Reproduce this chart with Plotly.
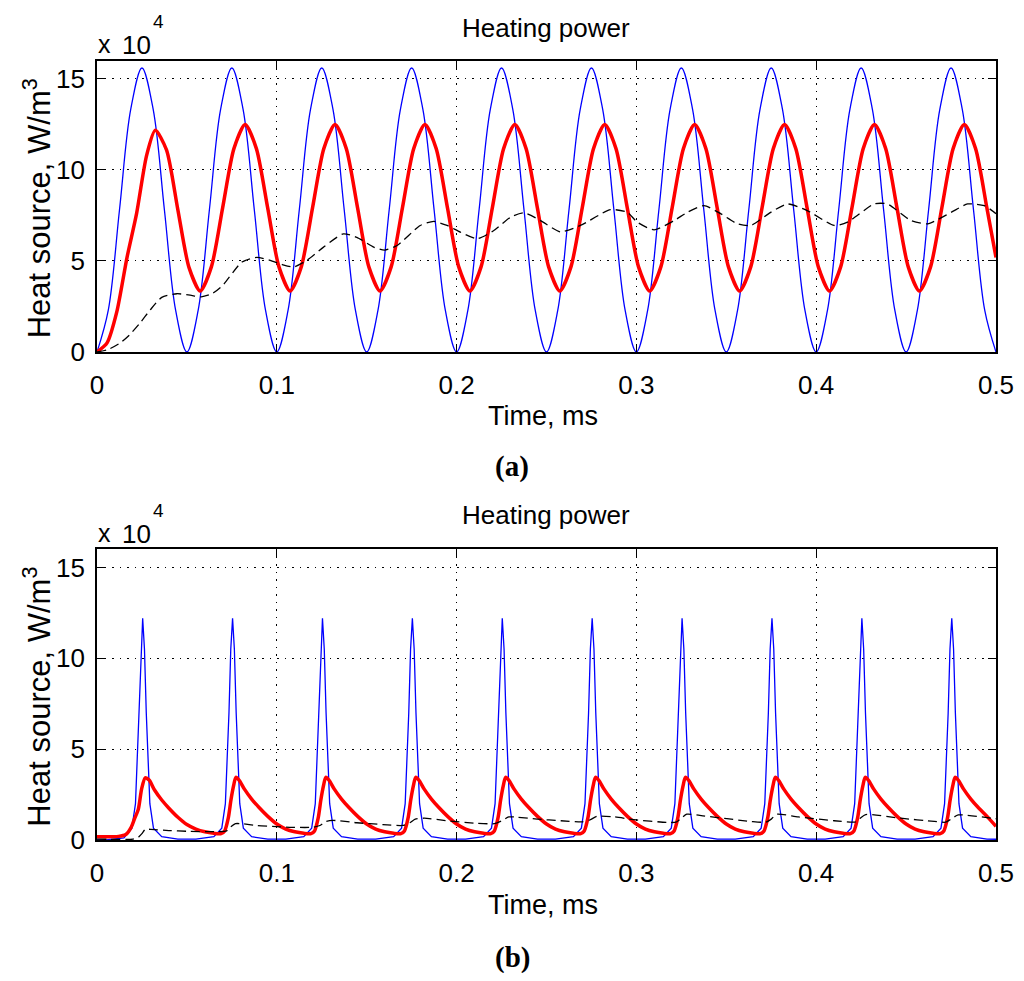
import plotly.graph_objects as go

# ---------------- data (heat source in units of 1e4 W/m^3, time in ms) ----------------
# (a) blue: sampled every 0.00625 ms
step_a = 0.00625
blue_a = [0, 2.28, 7.8, 13.32, 15.6, 13.32, 7.8, 2.28,
          0, 2.28, 7.8, 13.32, 15.6, 13.32, 7.8, 2.28,
          0, 2.28, 7.8, 13.32, 15.6, 13.32, 7.8, 2.28,
          0, 2.28, 7.8, 13.32, 15.6, 13.32, 7.8, 2.28,
          0, 2.28, 7.8, 13.32, 15.6, 13.32, 7.8, 2.28,
          0, 2.28, 7.8, 13.32, 15.6, 13.32, 7.8, 2.28,
          0, 2.28, 7.8, 13.32, 15.6, 13.32, 7.8, 2.28,
          0, 2.28, 7.8, 13.32, 15.6, 13.32, 7.8, 2.28,
          0, 2.28, 7.8, 13.32, 15.6, 13.32, 7.8, 2.28,
          0, 2.28, 7.8, 13.32, 15.6, 13.32, 7.8, 2.28,
          0]
t_blue_a = [round(i * step_a, 5) for i in range(len(blue_a))]

# (a) red: initial rise, then samples every 0.00625 ms from the first peak, then end point
t_red_a_rise = [0, 0.0056, 0.011, 0.0167, 0.022, 0.0276]
red_a_rise = [0, 0.5, 2.2, 5.2, 7.6, 10.8]
red_a_main = [12.18, 11.1, 7.85, 4.65, 3.35, 4.69, 7.93, 11.17,
              12.5, 11.17, 7.93, 4.69, 3.35, 4.69, 7.93, 11.17,
              12.5, 11.17, 7.93, 4.69, 3.35, 4.69, 7.93, 11.17,
              12.5, 11.17, 7.93, 4.69, 3.35, 4.69, 7.93, 11.17,
              12.5, 11.17, 7.93, 4.69, 3.35, 4.69, 7.93, 11.17,
              12.5, 11.17, 7.93, 4.69, 3.35, 4.69, 7.93, 11.17,
              12.5, 11.17, 7.93, 4.69, 3.35, 4.69, 7.93, 11.17,
              12.5, 11.17, 7.93, 4.69, 3.35, 4.69, 7.93, 11.17,
              12.5, 11.17, 7.93, 4.69, 3.35, 4.69, 7.93, 11.17,
              12.5, 11.17, 7.93]
t_red_a_main = [round(0.0324 + j * step_a, 5) for j in range(len(red_a_main))]
t_red_a = t_red_a_rise + t_red_a_main + [0.5]
red_a = red_a_rise + red_a_main + [5.19]

# (a) black dashed
t_black_a = [0, 0.0065, 0.0128, 0.018, 0.024, 0.0295, 0.036, 0.0444, 0.0518, 0.058,
             0.064, 0.070, 0.0806, 0.0889, 0.0963, 0.1028, 0.1093, 0.1167, 0.126, 0.137,
             0.1445, 0.1539, 0.160, 0.1669, 0.1798, 0.1873, 0.1947, 0.2021, 0.2114, 0.2207,
             0.230, 0.2374, 0.2467, 0.2578, 0.2689, 0.2856, 0.295, 0.3005, 0.3098, 0.321,
             0.3283, 0.3376, 0.347, 0.3562, 0.3637, 0.3747, 0.384, 0.395, 0.41, 0.4174,
             0.4322, 0.4396, 0.4527, 0.462, 0.475, 0.4842, 0.4935, 0.5]
black_a = [0, 0.15, 0.49, 0.93, 1.6, 2.3, 3.0, 3.2, 3.12, 3.03,
           3.2, 3.67, 4.94, 5.2, 5.03, 4.81, 4.67, 5.03, 5.76, 6.49,
           6.3, 5.76, 5.6, 5.85, 6.95, 7.17, 6.95, 6.58, 6.22, 6.67,
           7.4, 7.64, 7.22, 6.6, 6.95, 7.82, 7.67, 7.13, 6.71, 7.22,
           7.67, 8.04, 7.59, 7.04, 6.95, 7.67, 8.13, 7.77, 6.95, 7.13,
           8.13, 8.13, 7.22, 7.04, 7.67, 8.13, 8.04, 7.6]

# (b) blue spikes
t_blue_b = [0,
            0.005, 0.015, 0.0194, 0.0214, 0.0234, 0.0244, 0.0254, 0.0264, 0.0274, 0.0294, 0.0314, 0.036, 0.045,
            0.055, 0.065, 0.0694, 0.0714, 0.0734, 0.0744, 0.0754, 0.0764, 0.0774, 0.0794, 0.0814, 0.086, 0.095,
            0.105, 0.115, 0.1194, 0.1214, 0.1234, 0.1244, 0.1254, 0.1264, 0.1274, 0.1294, 0.1314, 0.136, 0.145,
            0.155, 0.165, 0.1694, 0.1714, 0.1734, 0.1744, 0.1754, 0.1764, 0.1774, 0.1794, 0.1814, 0.186, 0.195,
            0.205, 0.215, 0.2194, 0.2214, 0.2234, 0.2244, 0.2254, 0.2264, 0.2274, 0.2294, 0.2314, 0.236, 0.245,
            0.255, 0.265, 0.2694, 0.2714, 0.2734, 0.2744, 0.2754, 0.2764, 0.2774, 0.2794, 0.2814, 0.286, 0.295,
            0.305, 0.315, 0.3194, 0.3214, 0.3234, 0.3244, 0.3254, 0.3264, 0.3274, 0.3294, 0.3314, 0.336, 0.345,
            0.355, 0.365, 0.3694, 0.3714, 0.3734, 0.3744, 0.3754, 0.3764, 0.3774, 0.3794, 0.3814, 0.386, 0.395,
            0.405, 0.415, 0.4194, 0.4214, 0.4234, 0.4244, 0.4254, 0.4264, 0.4274, 0.4294, 0.4314, 0.436, 0.445,
            0.455, 0.465, 0.4694, 0.4714, 0.4734, 0.4744, 0.4754, 0.4764, 0.4774, 0.4794, 0.4814, 0.486, 0.495,
            0.5]
blue_b = [0,
          0.0, 0.12, 0.65, 2.0, 7.0, 10.5, 12.2, 10.5, 7.0, 2.0, 0.65, 0.18, 0.05,
          0.05, 0.18, 0.65, 2.0, 7.0, 10.5, 12.2, 10.5, 7.0, 2.0, 0.65, 0.18, 0.05,
          0.05, 0.18, 0.65, 2.0, 7.0, 10.5, 12.2, 10.5, 7.0, 2.0, 0.65, 0.18, 0.05,
          0.05, 0.18, 0.65, 2.0, 7.0, 10.5, 12.2, 10.5, 7.0, 2.0, 0.65, 0.18, 0.05,
          0.05, 0.18, 0.65, 2.0, 7.0, 10.5, 12.2, 10.5, 7.0, 2.0, 0.65, 0.18, 0.05,
          0.05, 0.18, 0.65, 2.0, 7.0, 10.5, 12.2, 10.5, 7.0, 2.0, 0.65, 0.18, 0.05,
          0.05, 0.18, 0.65, 2.0, 7.0, 10.5, 12.2, 10.5, 7.0, 2.0, 0.65, 0.18, 0.05,
          0.05, 0.18, 0.65, 2.0, 7.0, 10.5, 12.2, 10.5, 7.0, 2.0, 0.65, 0.18, 0.05,
          0.05, 0.18, 0.65, 2.0, 7.0, 10.5, 12.2, 10.5, 7.0, 2.0, 0.65, 0.18, 0.05,
          0.05, 0.18, 0.65, 2.0, 7.0, 10.5, 12.2, 10.5, 7.0, 2.0, 0.65, 0.18, 0.05,
          0.04]

# (b) red
t_red_b = [0, 0.012, 0.016, 0.019, 0.021, 0.023, 0.0248, 0.0268, 0.029, 0.032, 0.036, 0.040, 0.045,
           0.050, 0.055, 0.060, 0.065, 0.069, 0.071, 0.073, 0.0745, 0.076, 0.0772, 0.079, 0.082, 0.086, 0.090, 0.095,
           0.100, 0.105, 0.110, 0.115, 0.119, 0.121, 0.123, 0.1245, 0.126, 0.1272, 0.129, 0.132, 0.136, 0.140, 0.145,
           0.150, 0.155, 0.160, 0.165, 0.169, 0.171, 0.173, 0.1745, 0.176, 0.1772, 0.179, 0.182, 0.186, 0.190, 0.195,
           0.200, 0.205, 0.210, 0.215, 0.219, 0.221, 0.223, 0.2245, 0.226, 0.2272, 0.229, 0.232, 0.236, 0.240, 0.245,
           0.250, 0.255, 0.260, 0.265, 0.269, 0.271, 0.273, 0.2745, 0.276, 0.2772, 0.279, 0.282, 0.286, 0.290, 0.295,
           0.300, 0.305, 0.310, 0.315, 0.319, 0.321, 0.323, 0.3245, 0.326, 0.3272, 0.329, 0.332, 0.336, 0.340, 0.345,
           0.350, 0.355, 0.360, 0.365, 0.369, 0.371, 0.373, 0.3745, 0.376, 0.3772, 0.379, 0.382, 0.386, 0.390, 0.395,
           0.400, 0.405, 0.410, 0.415, 0.419, 0.421, 0.423, 0.4245, 0.426, 0.4272, 0.429, 0.432, 0.436, 0.440, 0.445,
           0.450, 0.455, 0.460, 0.465, 0.469, 0.471, 0.473, 0.4745, 0.476, 0.4772, 0.479, 0.482, 0.486, 0.490, 0.495,
           0.500]
red_b = [0.18, 0.2, 0.3, 0.7, 1.2, 1.7, 2.8, 3.42, 3.3, 2.75, 2.2, 1.75, 1.25,
         0.85, 0.6, 0.45, 0.37, 0.35, 0.5, 1.2, 2.2, 3.0, 3.45, 3.3, 2.8, 2.25, 1.8, 1.3,
         0.88, 0.6, 0.45, 0.37, 0.35, 0.5, 1.2, 2.2, 3.0, 3.45, 3.3, 2.8, 2.25, 1.8, 1.3,
         0.88, 0.6, 0.45, 0.37, 0.35, 0.5, 1.2, 2.2, 3.0, 3.45, 3.3, 2.8, 2.25, 1.8, 1.3,
         0.88, 0.6, 0.45, 0.37, 0.35, 0.5, 1.2, 2.2, 3.0, 3.45, 3.3, 2.8, 2.25, 1.8, 1.3,
         0.88, 0.6, 0.45, 0.37, 0.35, 0.5, 1.2, 2.2, 3.0, 3.45, 3.3, 2.8, 2.25, 1.8, 1.3,
         0.88, 0.6, 0.45, 0.37, 0.35, 0.5, 1.2, 2.2, 3.0, 3.45, 3.3, 2.8, 2.25, 1.8, 1.3,
         0.88, 0.6, 0.45, 0.37, 0.35, 0.5, 1.2, 2.2, 3.0, 3.45, 3.3, 2.8, 2.25, 1.8, 1.3,
         0.88, 0.6, 0.45, 0.37, 0.35, 0.5, 1.2, 2.2, 3.0, 3.45, 3.3, 2.8, 2.25, 1.8, 1.3,
         0.88, 0.6, 0.45, 0.37, 0.35, 0.5, 1.2, 2.2, 3.0, 3.45, 3.3, 2.8, 2.25, 1.8, 1.3,
         0.75]

# (b) black dashed
t_black_b = [0, 0.02, 0.023, 0.025, 0.027, 0.03, 0.04, 0.05, 0.066, 0.072, 0.074, 0.077, 0.08,
             0.089, 0.1, 0.107, 0.12, 0.124, 0.127, 0.131, 0.1445, 0.159, 0.17, 0.174, 0.177, 0.182,
             0.1947, 0.21, 0.221, 0.225, 0.229, 0.234, 0.2448, 0.258, 0.27, 0.274, 0.278, 0.287,
             0.2985, 0.317, 0.322, 0.325, 0.328, 0.337, 0.3637, 0.372, 0.375, 0.378, 0.39, 0.41,
             0.422, 0.4245, 0.4275, 0.447, 0.4657, 0.472, 0.475, 0.479, 0.499, 0.5]
black_b = [0.05, 0.05, 0.15, 0.35, 0.6, 0.58, 0.52, 0.48, 0.46, 0.5, 0.7, 0.9, 0.9,
           0.8, 0.74, 0.7, 0.7, 0.8, 1.0, 1.08, 0.95, 0.85, 0.8, 0.95, 1.15, 1.2,
           1.06, 0.93, 0.9, 1.05, 1.27, 1.25, 1.15, 1.06, 1.0, 1.1, 1.3, 1.28,
           1.12, 0.97, 0.98, 1.2, 1.42, 1.33, 1.02, 0.98, 1.15, 1.42, 1.27, 1.06,
           1.0, 1.2, 1.4, 1.2, 1.02, 0.98, 1.15, 1.38, 1.18, 1.17]

x_ticks = [0, 0.1, 0.2, 0.3, 0.4, 0.5]
x_tick_text = ["0", "0.1", "0.2", "0.3", "0.4", "0.5"]
y_ticks = [0, 5, 10, 15]
y_tick_text = ["0", "5", "10", "15"]
panel_title = "Heating power"
x_label = "Time, ms"
y_label = "Heat source, W/m<sup>3</sup>"
panel_tags = ["(a)", "(b)"]

# ---------------- figure ----------------
# page body has an 8px default margin, so the figure is placed at (8, 8) in the window
OFF = 8
W, H = 1008, 965
def px(x):
    return (x - OFF) / W
def py(y):
    return 1 - (y - OFF) / H

SANS = "Liberation Sans, Arial, Helvetica, sans-serif"
BLUE = "#0000ff"
RED = "#ff0000"
FS = 27

fig = go.Figure()
for xa, ya, tb, vb, tr, vr, tk, vk, blue_shape in [
    ("x", "y", t_blue_a, blue_a, t_red_a, red_a, t_black_a, black_a, "spline"),
    ("x2", "y2", t_blue_b, blue_b, t_red_b, red_b, t_black_b, black_b, "linear"),
]:
    fig.add_trace(go.Scatter(x=tb, y=vb, xaxis=xa, yaxis=ya, mode="lines",
                             line=dict(color=BLUE, width=1.3, shape=blue_shape), showlegend=False))
    fig.add_trace(go.Scatter(x=tr, y=vr, xaxis=xa, yaxis=ya, mode="lines",
                             line=dict(color=RED, width=3.5, shape="spline", smoothing=0.7), showlegend=False))
    fig.add_trace(go.Scatter(x=tk, y=vk, xaxis=xa, yaxis=ya, mode="lines",
                             line=dict(color="black", width=1.3, dash="9px,5px", shape="spline", smoothing=0.6),
                             showlegend=False))

common = dict(
    ticks="inside", ticklen=8, tickwidth=1.2, tickcolor="black",
    showline=True, linecolor="black", linewidth=1.6, mirror="ticks",
    showgrid=True, gridcolor="black", gridwidth=1.3, griddash="1.5px,6px",
    zeroline=False, automargin=False,
    tickfont=dict(family=SANS, size=FS - 1, color="black"),
)
xdom = [px(97), px(996)]
fig.update_layout(
    width=W, height=H, autosize=False,
    margin=dict(l=0, r=0, t=0, b=0, pad=0),
    paper_bgcolor="white", plot_bgcolor="white",
    xaxis=dict(domain=xdom, anchor="y", range=[0, 0.5], tickvals=x_ticks, ticktext=x_tick_text,
               ticklabelstandoff=9, **common),
    yaxis=dict(domain=[py(352), py(60.7)], anchor="x", range=[0, 16], tickvals=y_ticks,
               ticktext=y_tick_text, ticklabelstandoff=5, **common),
    xaxis2=dict(domain=xdom, anchor="y2", range=[0, 0.5], tickvals=x_ticks, ticktext=x_tick_text,
                ticklabelstandoff=9, **common),
    yaxis2=dict(domain=[py(840), py(549.3)], anchor="x2", range=[0, 16], tickvals=y_ticks,
                ticktext=y_tick_text, ticklabelstandoff=5, **common),
)

ann = []
for (top, bottom, title_y, xlab_y) in [(60.7, 352, 28, 416), (549.3, 840, 515, 905)]:
    ann.append(dict(text=panel_title, x=px(546), y=py(title_y), xref="paper", yref="paper",
                    showarrow=False, xanchor="center", yanchor="middle",
                    font=dict(family=SANS, size=FS - 1, color="black")))
    ann.append(dict(text=x_label, x=px(543), y=py(xlab_y), xref="paper", yref="paper",
                    showarrow=False, xanchor="center", yanchor="middle",
                    font=dict(family=SANS, size=FS, color="black")))
    ann.append(dict(text=y_label, x=px(37), y=py((top + bottom) / 2 + 2), xref="paper", yref="paper",
                    showarrow=False, xanchor="center", yanchor="middle", textangle=-90,
                    font=dict(family=SANS, size=31, color="black")))
    ann.append(dict(text="x", x=px(96), y=py(top - 16.5), xref="paper", yref="paper",
                    showarrow=False, xanchor="left", yanchor="middle",
                    font=dict(family=SANS, size=FS - 2, color="black")))
    ann.append(dict(text="10", x=px(153), y=py(top - 15.5), xref="paper", yref="paper",
                    showarrow=False, xanchor="right", yanchor="middle",
                    font=dict(family=SANS, size=FS - 1, color="black")))
    ann.append(dict(text="4", x=px(151), y=py(top - 39), xref="paper", yref="paper",
                    showarrow=False, xanchor="left", yanchor="middle",
                    font=dict(family=SANS, size=19, color="black")))
for tag, ty in zip(panel_tags, [466, 957]):
    ann.append(dict(text="<b>" + tag + "</b>", x=px(512), y=py(ty), xref="paper", yref="paper",
                    showarrow=False, xanchor="center", yanchor="middle",
                    font=dict(family="Liberation Serif, Times New Roman, serif", size=29, color="black")))
fig.update_layout(annotations=ann)

fig.write_html("out.html")
